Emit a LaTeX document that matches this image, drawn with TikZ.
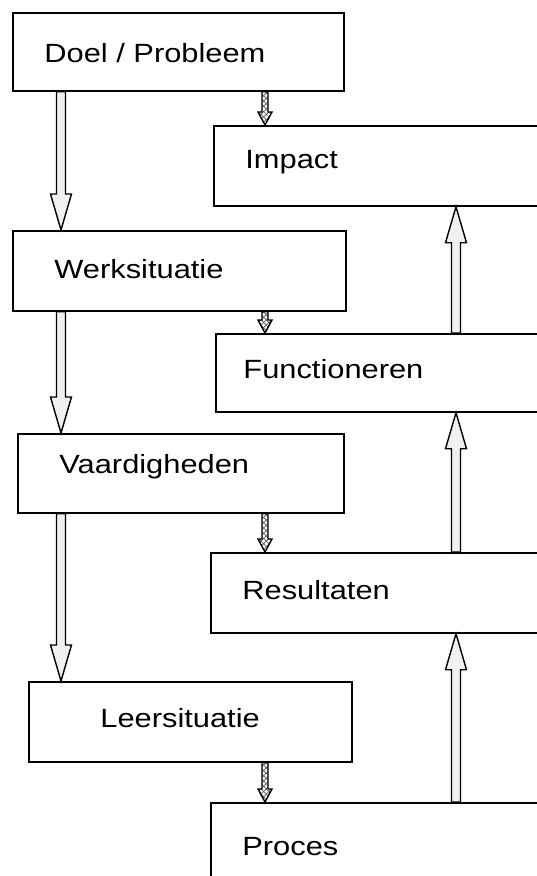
\documentclass[tikz,border=0pt]{standalone}
\usepackage{fontspec}
\setmainfont{Liberation Sans}
\usetikzlibrary{calc,patterns}

\tikzset{
  box/.style={draw, line width=1pt, inner sep=0pt, anchor=north west},
  lbl/.style={anchor=base west, inner sep=0pt, font=\fontsize{15}{18}\selectfont, xscale=1.17, transform shape},
  fat arrow/.style n args={3}{to path={
      let \p1=(\tikztostart), \p2=(\tikztotarget),
          \n1={ifthenelse(\y2>\y1,1,-1)} in
      ({\x1-#1},\y1) -- ({\x1-#1},{\y2-(\n1)*#3}) -- ({\x1-#2},{\y2-(\n1)*#3})
      -- (\x2,\y2) -- ({\x1+#2},{\y2-(\n1)*#3}) -- ({\x1+#1},{\y2-(\n1)*#3})
      -- ({\x1+#1},\y1) -- cycle}},
  bigarrow/.style={draw, line width=0.8pt, fill=gray!12, fat arrow={0.09cm}{0.21cm}{0.72cm}},
  smallarrow/.style={draw, line width=0.8pt, pattern=crosshatch, pattern color=gray!70!black, fat arrow={0.06cm}{0.14cm}{0.26cm}}
}

\begin{document}
\begin{tikzpicture}[x=0.02cm, y=-0.02cm]
  \useasboundingbox (0,0) rectangle (537,876);
  % columns of the arrows
  \coordinate (lcol) at (61,0);
  \coordinate (mcol) at (265,0);
  \coordinate (rcol) at (456,0);

  % left boxes
  \node[box, minimum width=6.62cm, minimum height=1.56cm] (doel) at (12,12) {};
  \node[box, minimum width=6.66cm, minimum height=1.6cm] (werk) at (12,230) {};
  \node[box, minimum width=6.52cm, minimum height=1.58cm] (vaard) at (17,433) {};
  \node[box, minimum width=6.46cm, minimum height=1.6cm] (leer) at (28,681) {};

  % right boxes
  \node[box, minimum width=7cm, minimum height=1.6cm] (impact) at (213,125) {};
  \node[box, minimum width=7cm, minimum height=1.56cm] (func) at (215,333) {};
  \node[box, minimum width=7cm, minimum height=1.6cm] (result) at (210,552) {};
  \node[box, minimum width=7cm, minimum height=1.8cm] (proces) at (210,802) {};

  % labels
  \node[lbl] (doeltxt) at ($(doel.north west)+(32,50)$) {Doel / Probleem};
  \node[lbl] (werktxt) at ($(werk.north west)+(42,48)$) {Werksituatie};
  \node[lbl] (vaardtxt) at ($(vaard.north west)+(42,40)$) {Vaardigheden};
  \node[lbl] (leertxt) at ($(leer.north west)+(72,46)$) {Leersituatie};
  \node[lbl] (impacttxt) at ($(impact.north west)+(32,43)$) {Impact};
  \node[lbl] (functxt) at ($(func.north west)+(28,45)$) {Functioneren};
  \node[lbl] (resulttxt) at ($(result.north west)+(32,47)$) {Resultaten};
  \node[lbl] (procestxt) at ($(proces.north west)+(32,53)$) {Proces};

  % down the left
  \draw[bigarrow] (doel.south -| lcol) to (werk.north -| lcol);
  \draw[bigarrow] (werk.south -| lcol) to (vaard.north -| lcol);
  \draw[bigarrow] (vaard.south -| lcol) to (leer.north -| lcol);

  % across
  \draw[smallarrow] (doel.south -| mcol) to (impact.north -| mcol);
  \draw[smallarrow] (werk.south -| mcol) to (func.north -| mcol);
  \draw[smallarrow] (vaard.south -| mcol) to (result.north -| mcol);
  \draw[smallarrow] (leer.south -| mcol) to (proces.north -| mcol);

  % up the right
  \draw[bigarrow] (proces.north -| rcol) to (result.south -| rcol);
  \draw[bigarrow] (result.north -| rcol) to (func.south -| rcol);
  \draw[bigarrow] (func.north -| rcol) to (impact.south -| rcol);
\end{tikzpicture}
\end{document}
